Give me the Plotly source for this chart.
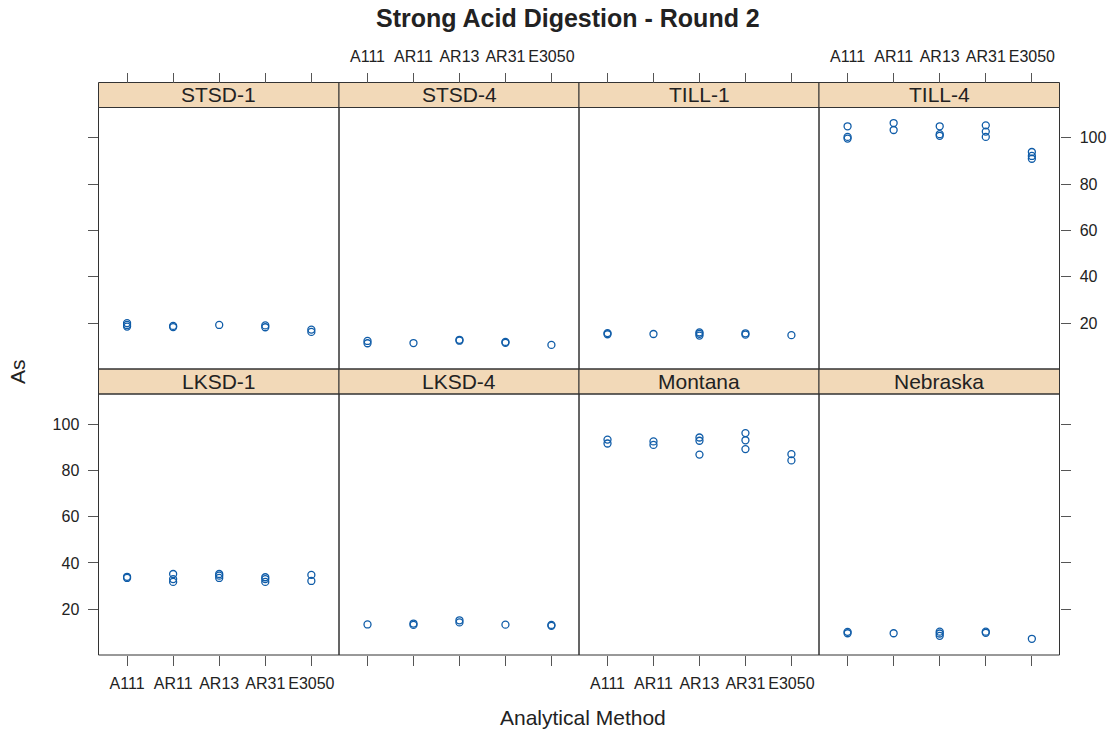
import plotly.graph_objects as go

W, H = 1114, 731

methods = ["A111", "AR11", "AR13", "AR31", "E3050"]
panel_names = ["STSD-1", "STSD-4", "TILL-1", "TILL-4",
               "LKSD-1", "LKSD-4", "Montana", "Nebraska"]

# As values per method (A111, AR11, AR13, AR31, E3050)
stsd1 = [[20.0, 19.2, 18.5], [18.8, 18.3], [19.2], [19.0, 18.2], [17.2, 16.2]]
stsd4 = [[12.3, 11.3], [11.4], [12.8, 12.4], [11.9, 11.5], [10.6]]
till1 = [[15.7, 15.2], [15.3], [16.0, 15.4, 14.6], [15.6, 15.0], [14.8]]
till4 = [[104.9, 100.3, 99.6], [106.3, 103.3], [104.9, 101.5, 100.8],
         [105.3, 102.6, 100.3], [93.8, 92.1, 90.9]]
lksd1 = [[34.0, 33.5], [35.2, 33.0, 31.8], [35.2, 34.5, 33.5],
         [33.8, 33.0, 31.8], [34.8, 32.2]]
lksd4 = [[13.4], [13.8, 13.2], [15.2, 14.3], [13.3], [13.2, 12.8]]
montana = [[93.3, 91.6], [92.5, 91.0], [94.2, 92.8, 86.8],
           [96.1, 93.0, 89.2], [87.0, 84.3]]
nebraska = [[10.2, 9.6], [9.6], [10.3, 9.5, 8.5], [10.3, 9.8], [7.2]]

panel_data = [stsd1, stsd4, till1, till4, lksd1, lksd4, montana, nebraska]
y_ticks = [20, 40, 60, 80, 100]

# layout geometry (pixels)
col_edges = [98.5, 339, 579, 819, 1059.5]
row_panel = [(107.5, 369), (394, 655)]
row_strip = [(82.5, 107.5), (369, 394)]


def fx(px):
    return px / W


def fy(py):
    return 1 - py / H


FAM = "Liberation Sans, Arial, sans-serif"
TICK_FONT = dict(family=FAM, size=16, color="#222")
MARK_COL = "#0f5ca8"
BORDER = "#333333"
TICKC = "#555555"

fig = go.Figure()
shapes = []
annotations = []

for i, (name, vals) in enumerate(zip(panel_names, panel_data)):
    row, col = divmod(i, 4)
    k = i + 1
    xa = "x" if k == 1 else f"x{k}"
    ya = "y" if k == 1 else f"y{k}"
    xs, ys = [], []
    for m_idx, vlist in enumerate(vals):
        for v in vlist:
            xs.append(m_idx + 1)
            ys.append(v)
    fig.add_trace(go.Scatter(
        x=xs, y=ys, mode="markers", xaxis=xa, yaxis=ya, showlegend=False,
        marker=dict(symbol="circle-open", size=7, color=MARK_COL,
                    line=dict(width=1.3, color=MARK_COL))))

    x0, x1 = col_edges[col], col_edges[col + 1]
    p0, p1 = row_panel[row]
    s0, s1 = row_strip[row]

    xaxis = dict(domain=[fx(x0), fx(x1)], range=[0.38, 5.6],
                 tickmode="array", tickvals=[1, 2, 3, 4, 5], ticktext=methods,
                 ticks="outside", ticklen=10, tickcolor=TICKC, tickwidth=1,
                 showgrid=False, zeroline=False, showline=False,
                 tickfont=TICK_FONT, fixedrange=True)
    if row == 0:
        xaxis.update(anchor="free", position=fy(s0), side="top",
                     showticklabels=(col in (1, 3)), ticklabelstandoff=4)
    else:
        xaxis.update(anchor=ya, side="bottom", showticklabels=(col in (0, 2)),
                     ticklabelstandoff=4)

    yaxis = dict(domain=[fy(p1), fy(p0)], range=[0.2, 113], anchor=xa,
                 tickmode="array", tickvals=y_ticks,
                 showgrid=False, zeroline=False, showline=False,
                 tickfont=TICK_FONT, fixedrange=True)
    if col == 0:
        yaxis.update(side="left", ticks="outside", ticklen=10, tickcolor=TICKC,
                     showticklabels=(row == 1), ticklabelstandoff=5)
    elif col == 3:
        yaxis.update(side="right", ticks="outside", ticklen=10, tickcolor=TICKC,
                     showticklabels=(row == 0), ticklabelstandoff=6)
    else:
        yaxis.update(ticks="", showticklabels=False)

    fig.update_layout(**{("xaxis" if k == 1 else f"xaxis{k}"): xaxis,
                         ("yaxis" if k == 1 else f"yaxis{k}"): yaxis})

    # panel border
    shapes.append(dict(type="rect", xref="paper", yref="paper",
                       x0=fx(x0), x1=fx(x1), y0=fy(p1), y1=fy(p0),
                       line=dict(color=BORDER, width=1), fillcolor="rgba(0,0,0,0)"))
    # strip
    shapes.append(dict(type="rect", xref="paper", yref="paper",
                       x0=fx(x0), x1=fx(x1), y0=fy(s1), y1=fy(s0),
                       line=dict(color=BORDER, width=1), fillcolor="#f2d9b8",
                       layer="below"))
    annotations.append(dict(text=name, xref="paper", yref="paper",
                            x=fx((x0 + x1) / 2), y=fy((s0 + s1) / 2),
                            xanchor="center", yanchor="middle", showarrow=False,
                            font=dict(family=FAM, size=21, color="#222")))

annotations.append(dict(text="<b>Strong Acid Digestion - Round 2</b>", xref="paper",
                        yref="paper", x=fx(568), y=fy(18), xanchor="center",
                        yanchor="middle", showarrow=False,
                        font=dict(family=FAM, size=25, color="#222")))
annotations.append(dict(text="Analytical Method", xref="paper", yref="paper",
                        x=fx(583), y=fy(717), xanchor="center", yanchor="middle",
                        showarrow=False,
                        font=dict(family=FAM, size=21, color="#222")))
annotations.append(dict(text="As", xref="paper", yref="paper", textangle=-90,
                        x=fx(17), y=fy(372), xanchor="center", yanchor="middle",
                        showarrow=False,
                        font=dict(family=FAM, size=21, color="#222")))

fig.update_layout(width=W, height=H, margin=dict(l=0, r=0, t=0, b=0),
                  paper_bgcolor="white", plot_bgcolor="white",
                  shapes=shapes, annotations=annotations)

fig.write_html("out.html", config={"displayModeBar": False},
               post_script="document.body.style.margin='0';document.body.style.padding='0';")
